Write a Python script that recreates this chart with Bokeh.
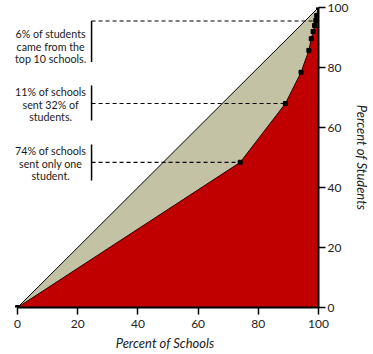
from bokeh.plotting import figure
from bokeh.models import Range1d, ColumnDataSource, LabelSet, FixedTicker
from bokeh.core.properties import value
from bokeh.embed import file_html
from bokeh.resources import INLINE

# Lorenz curve: cumulative percent of schools vs. percent of students
pct_schools = [0, 74, 89, 94.2, 96.8, 97.6, 98.2, 98.7, 99.1, 99.4, 100]
pct_students = [0, 48.4, 68, 78.4, 85.7, 89.6, 92, 94, 95.7, 97.3, 100]

# Annotations (one entry per text line)
note_lines = ["6% of students", "came from the", "top 10 schools.",
              "11% of schools", "sent 32% of", "students.",
              "74% of schools", "sent only one", "student."]
note_line_y = [91.3, 87.1, 82.9,
               72.0, 67.8, 63.6,
               52.3, 48.1, 43.9]
note_y = [95.5, 68, 48.4]          # level of the dashed leader
note_end_x = [99.1, 89, 74]        # where the leader meets the curve
bar_y0 = [81.8, 62.3, 42.3]
bar_y1 = [95.5, 74.0, 54.3]

ticks = [0, 20, 40, 60, 80, 100]

FONT = "Lato"
RED = "#C00000"
BEIGE = "#C4C2A4"

p = figure(width=373, height=354, output_backend="svg", toolbar_location=None,
           x_range=Range1d(-2, 100), y_range=Range1d(0, 100),
           y_axis_location="right",
           min_border_left=11, min_border_top=7, min_border_right=50, min_border_bottom=47)
p.outline_line_color = None
p.grid.visible = False
p.background_fill_color = "white"

# Areas
p.varea(x=pct_schools, y1=pct_schools, y2=pct_students, fill_color=BEIGE)
p.varea(x=pct_schools, y1=[0] * len(pct_schools), y2=pct_students, fill_color=RED)

# Line of equality
p.line(x=[ticks[0], ticks[-1]], y=[ticks[0], ticks[-1]], line_color="black", line_width=1)
# Lorenz curve
p.line(x=pct_schools, y=pct_students, line_color="#2a0000", line_width=1)
p.scatter(x=pct_schools, y=pct_students, marker="square", size=4, color="black")

# Leader lines
lead_x0 = [24.6] * 3
p.segment(x0=lead_x0, y0=note_y, x1=note_end_x, y1=note_y,
          line_color="black", line_width=1.2, line_dash="4 3")
p.segment(x0=lead_x0, y0=bar_y0, x1=lead_x0, y1=bar_y1,
          line_color="black", line_width=1.5)

src = ColumnDataSource(dict(x=[11.0] * len(note_lines), y=note_line_y, t=note_lines))
labels = LabelSet(x="x", y="y", text="t", source=src, text_align="center",
                  text_baseline="middle", text_font=value(FONT),
                  text_font_size=value("10.7px"), text_color="#1a1a1a")
p.add_layout(labels)

for ax in (p.xaxis[0], p.yaxis[0]):
    ax.ticker = FixedTicker(ticks=ticks)
    ax.bounds = (0, 100)
    ax.axis_line_color = "black"
    ax.axis_line_width = 2
    ax.major_tick_line_color = "black"
    ax.major_tick_line_width = 1.5
    ax.major_tick_out = 7
    ax.major_tick_in = 0
    ax.minor_tick_line_color = None
    ax.major_label_text_font = FONT
    ax.major_label_text_font_size = "12px"
    ax.major_label_text_color = "#222222"
    ax.axis_label_text_font = FONT
    ax.axis_label_text_font_size = "13px"
    ax.axis_label_text_font_style = "italic"
    ax.axis_label_text_color = "#222222"

p.xaxis.axis_label = "Percent of Schools"
p.yaxis.axis_label = "Percent of Students"
p.xaxis.major_label_standoff = 5
p.xaxis.axis_label_standoff = 4
p.yaxis.major_label_standoff = 2
p.yaxis.axis_label_standoff = 3

open("out.html", "w").write(file_html(p, INLINE))
